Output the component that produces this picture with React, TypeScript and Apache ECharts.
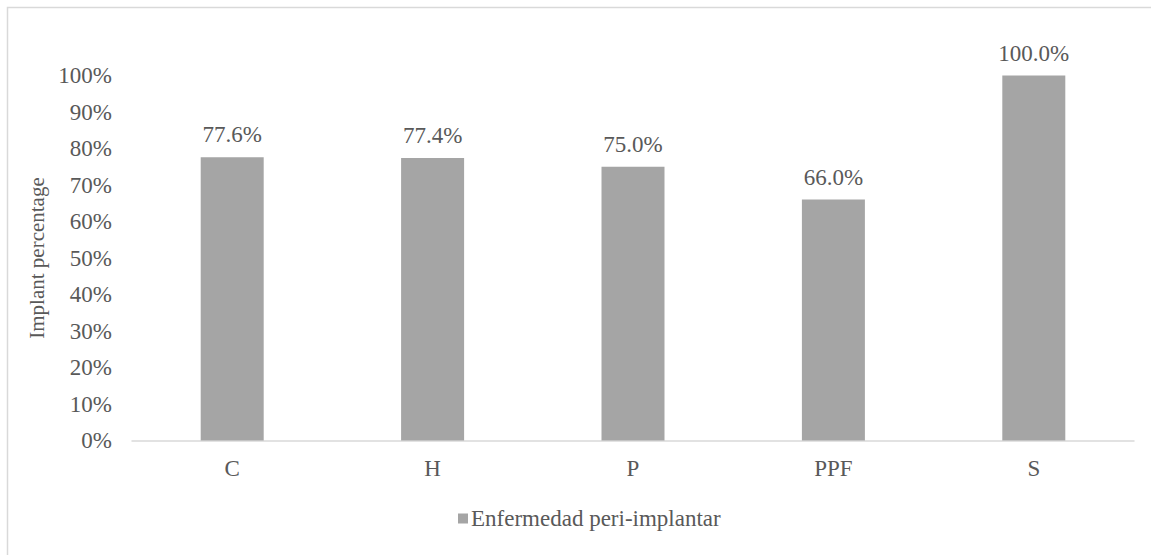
import React, { useEffect, useRef } from "react";
import * as echarts from "echarts";

const categories = ["C", "H", "P", "PPF", "S"];
const values = [77.6, 77.4, 75.0, 66.0, 100.0];
const seriesName = "Enfermedad peri-implantar";
const yTitle = "Implant percentage";

const FONT = "Liberation Serif, serif";
const TEXT = "#595959";
const SIZE = 23;

export default function App() {
  const ref = useRef<HTMLDivElement>(null);

  useEffect(() => {
    if (!ref.current) return;
    const chart = echarts.init(ref.current, undefined, { renderer: "svg" });
    chart.setOption({
      animation: false,
      backgroundColor: "#ffffff",
      textStyle: { fontFamily: FONT },
      graphic: [
        {
          type: "rect",
          shape: { x: 7.5, y: 7.5, width: 1160, height: 570 },
          style: { fill: "none", stroke: "#d9d9d9", lineWidth: 1.5 },
          silent: true,
        },
      ],
      grid: { left: 132, top: 75.5, width: 1002, height: 365 },
      legend: {
        data: [seriesName],
        bottom: 20,
        left: 453,
        icon: "rect",
        itemWidth: 10,
        itemHeight: 10,
        itemGap: 6,
        textStyle: { fontFamily: FONT, fontSize: SIZE, color: TEXT, padding: [0, 0, 0, -2] },
      },
      xAxis: {
        type: "category",
        data: categories,
        axisLine: { lineStyle: { color: "#d9d9d9", width: 1.5 } },
        axisTick: { show: false },
        axisLabel: { fontFamily: FONT, fontSize: SIZE, color: TEXT, margin: 16 },
      },
      yAxis: {
        type: "value",
        min: 0,
        max: 100,
        interval: 10,
        name: yTitle,
        nameLocation: "middle",
        nameGap: 77,
        nameTextStyle: { fontFamily: FONT, fontSize: 21, color: TEXT },
        axisLine: { show: false },
        axisTick: { show: false },
        splitLine: { show: false },
        axisLabel: {
          fontFamily: FONT,
          fontSize: SIZE,
          color: TEXT,
          margin: 20,
          formatter: (v: number) => `${v}%`,
        },
      },
      series: [
        {
          name: seriesName,
          type: "bar",
          data: values,
          barWidth: 63,
          itemStyle: { color: "#a5a5a5" },
          label: {
            show: true,
            position: "top",
            distance: 11,
            fontFamily: FONT,
            fontSize: SIZE,
            color: TEXT,
            formatter: (p: any) => `${Number(p.value).toFixed(1)}%`,
          },
        },
      ],
    });
    return () => chart.dispose();
  }, []);

  return (
    <div
      ref={ref}
      style={{ position: "absolute", left: 0, top: 0, width: 1151, height: 555 }}
    />
  );
}
